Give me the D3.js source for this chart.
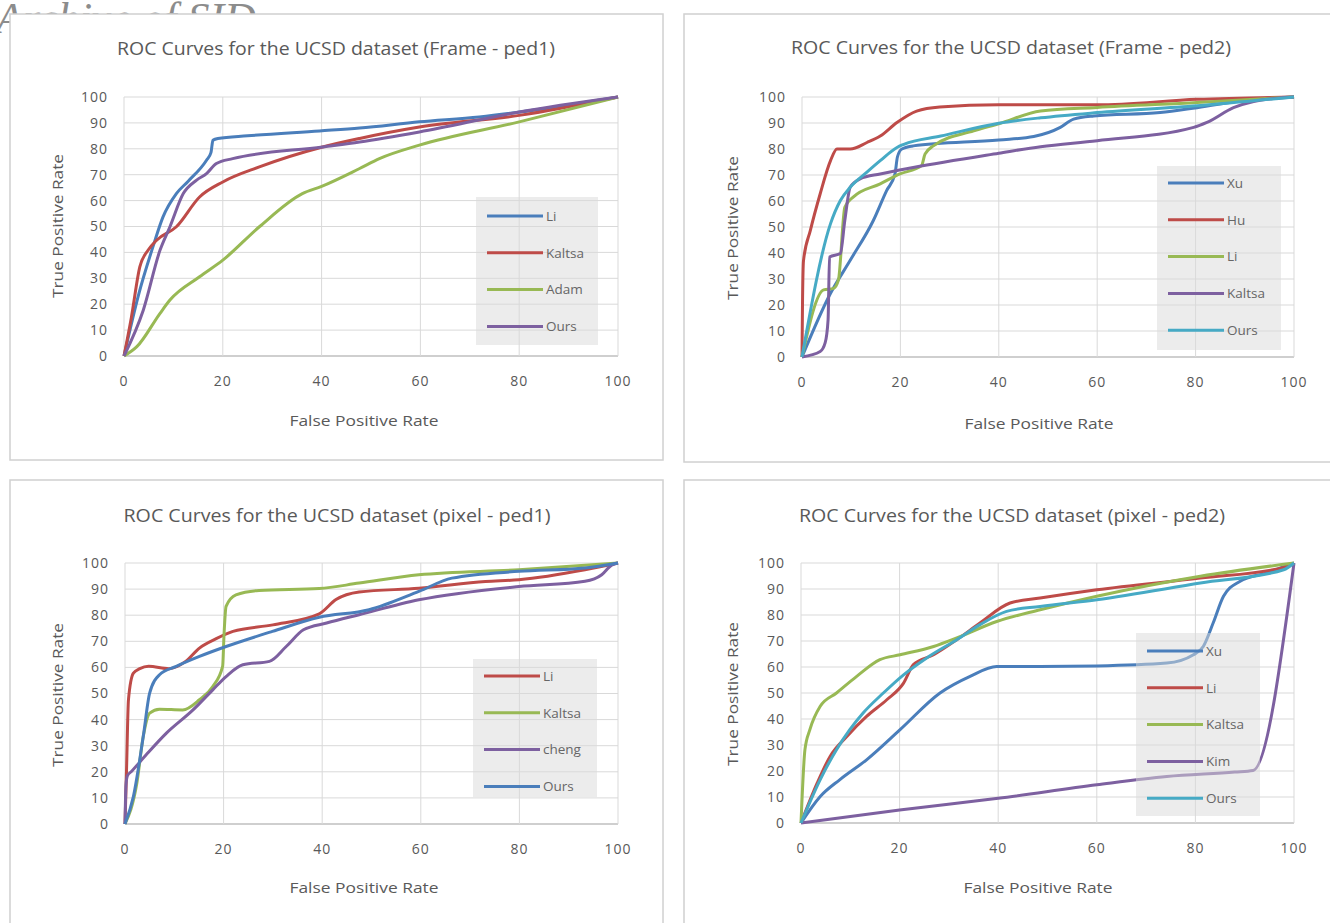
<!DOCTYPE html>
<html>
<head>
<meta charset="utf-8">
<script src="https://cdn.jsdelivr.net/npm/d3@7"></script>
<style>
  body { margin: 0; background: #fff; }
  text { font-family: 'Open Sans', sans-serif; fill: #595959; }
</style>
</head>
<body>
<svg id="chart" width="1330" height="923"></svg>
<script>
// ROC curve points [FPR, TPR]

// Frame - ped1
const fp1Names = ['Li', 'Kaltsa', 'Adam', 'Ours']
const fp1Li = [[0, 0], [3, 24], [6, 43], [7.9, 53.7], [10.6, 62.7], [13, 67.5], [16.7, 75.6], [17.6, 78.5], [18, 83.3], [19, 84], [25, 85], [39.6, 86.9], [47.7, 88], [59.8, 90.4], [71.9, 92.3], [85, 95.5], [100, 100]]
const fp1Kaltsa = [[0, 0], [1.5, 15], [3.2, 34.4], [4.9, 40.9], [6.6, 44.7], [10.6, 49.9], [15.3, 61.4], [20, 67.2], [27.4, 73], [40.2, 80.7], [47.7, 84], [59.8, 88.4], [80, 92.9], [100, 100]]
const fp1Adam = [[0, 0], [2.6, 3.6], [7.3, 16.5], [9.3, 21.6], [15.3, 30.6], [20, 37], [27.4, 49.9], [36.1, 62.7], [40, 65.5], [47.7, 72.4], [51.7, 76.2], [59.8, 81.4], [80, 90.4], [100, 100]]
const fp1Ours = [[0, 0], [3.9, 17.7], [7.3, 40.9], [9.3, 49.9], [12, 62.7], [14.7, 67.9], [16.7, 70.4], [18.7, 74.3], [22, 76.2], [40.2, 80.7], [47.7, 82.6], [59.8, 86.5], [80, 94.2], [100, 100]]

// Frame - ped2
const fp2Names = ['Xu', 'Hu', 'Li', 'Kaltsa', 'Ours']
const fp2Xu = [[0, 0], [5.8, 24.5], [9.8, 37.2], [14.5, 52.5], [17.2, 64], [18.9, 70.4], [19.4, 77], [20.3, 80], [22.6, 81.2], [40, 83.5], [47.1, 84.8], [52.5, 88.3], [55.2, 91.5], [59.3, 92.7], [72.8, 94], [80.3, 95.9], [91.8, 99.1], [100, 100]]
const fp2Hu = [[0, 0], [0.1, 20], [0.3, 37], [1.7, 48.7], [3.7, 62.8], [5.8, 75.5], [7.1, 80], [9.8, 80], [13.2, 82.5], [15.9, 85], [19.3, 90.2], [23.3, 94.6], [28, 96.2], [40, 97], [60, 97], [80.3, 99.1], [100, 100]]
const fp2Li = [[0, 0], [4.4, 25.8], [6.4, 26.4], [7.4, 29.6], [8.7, 57.6], [10.4, 61.5], [15.9, 66.6], [19.9, 70.4], [24.3, 73.6], [25, 78], [26.7, 81.2], [34.9, 87], [40, 89.7], [48.5, 94.6], [60, 96], [80.3, 97.9], [100, 100]]
const fp2Kaltsa = [[0, 0], [3.7, 2.1], [4.7, 5.4], [5.3, 14.3], [5.6, 38.5], [7.8, 39.8], [8.7, 52.5], [9.8, 65.3], [11.8, 68.5], [15.9, 70.4], [22.6, 72.9], [40, 78.4], [48.5, 80.9], [60, 83.2], [79.6, 88.3], [82.3, 90.2], [87.7, 95.9], [91.8, 98.3], [100, 100]]
const fp2Ours = [[0, 0], [5.8, 51.3], [7.8, 60.2], [9.8, 65.3], [13.2, 71.1], [15.9, 75.5], [19.3, 80.6], [20.7, 81.8], [28.2, 85], [40, 89.9], [48.5, 92], [60, 94], [80.3, 96.6], [100, 100]]

// pixel - ped1
const pp1Names = ['Li', 'Kaltsa', 'cheng', 'Ours']
const pp1Li = [[0, 0], [0.3, 20], [0.7, 47.6], [1.7, 57.8], [3, 59.5], [4.8, 60.4], [8.9, 59.5], [12.3, 62.3], [15.1, 67.4], [18.5, 71], [21.9, 73.8], [30, 76.3], [39.4, 80.5], [42.8, 86], [47.5, 88.9], [59.6, 90.3], [73.1, 92.9], [79.9, 93.6], [93.3, 97.4], [100, 100]]
const pp1Kaltsa = [[0, 0], [2.4, 15.6], [3.7, 33.5], [5, 42.5], [7, 44], [11.7, 43.7], [15.1, 47.6], [17.8, 52.7], [19.8, 60.4], [20.1, 73.1], [20.5, 83.4], [22.5, 87.8], [27.2, 89.5], [39.4, 90.2], [47.5, 92.3], [59.6, 95.5], [79.9, 97.4], [100, 100]]
const pp1Cheng = [[0, 0], [0.2, 15], [0.5, 18.5], [1.3, 20.1], [4.3, 26.5], [8.4, 34.8], [13.8, 43.7], [17.8, 51.4], [20.5, 56.5], [23.9, 61], [29.3, 62.3], [32.7, 68], [36.2, 74.4], [40.9, 77], [47.5, 80.2], [59.6, 85.9], [79.9, 91], [93.3, 93], [96.7, 95.5], [98.7, 99.2], [100, 100]]
const pp1Ours = [[0, 0], [1.7, 10.5], [3.7, 33.5], [5, 50.1], [7, 57.2], [10.4, 60.4], [15.1, 64.2], [20.5, 68], [29.9, 73.8], [39.4, 79.2], [49.5, 82.1], [59.6, 89.1], [66.3, 94.2], [79.9, 96.8], [93.3, 98.1], [100, 100]]

// pixel - ped2
const pp2Names = ['Xu', 'Li', 'Kaltsa', 'Kim', 'Ours']
const pp2Xu = [[0, 0], [3.9, 10.2], [7.9, 16.7], [13.3, 24.3], [20.1, 35.9], [28.2, 50], [34.3, 56.4], [39.7, 60.2], [48.5, 60.2], [60, 60.4], [74.2, 61.5], [79.6, 64.7], [81.6, 67.9], [83.6, 76.9], [85.7, 87.2], [89, 92.9], [94.5, 96.2], [100, 100]]
const pp2Li = [[0, 0], [3.3, 15.4], [5.9, 25.6], [9.3, 33.3], [13.3, 41], [17.4, 47.4], [20.8, 53.8], [22.8, 60.9], [26.9, 64.7], [31.6, 70.5], [36.3, 76.9], [42.4, 84.6], [48.5, 86.5], [60, 89.7], [81, 94.2], [97.9, 98.3], [100, 100]]
const pp2Kaltsa = [[0, 0], [0.8, 28.2], [1.8, 35.9], [3.9, 44.9], [7.2, 50], [11.3, 56.4], [16, 62.8], [20.1, 64.7], [26.9, 67.9], [31.6, 71.2], [39.7, 77.5], [48.5, 82], [60, 87.2], [81, 94.9], [100, 100]]
const pp2Kim = [[0, 0], [20, 5], [40, 9.5], [60, 14.7], [74.2, 17.9], [88, 19.6], [91.7, 20.2], [100, 100]]
const pp2Ours = [[0, 0], [3.9, 16.7], [7.2, 28.2], [9.9, 35.9], [12.6, 42.3], [16.7, 50], [20.8, 57], [25.5, 63.5], [31.6, 70.5], [36.3, 76.3], [41.7, 81.4], [48.5, 83.3], [60, 85.9], [81, 92.3], [97.9, 97.4], [100, 100]]

const xTicks = [0, 20, 40, 60, 80, 100]
const yTicks = [0, 10, 20, 30, 40, 50, 60, 70, 80, 90, 100]

const blue = '#4a7ebb'
const red = '#be4b48'
const green = '#98b954'
const purple = '#7d60a0'
const cyan = '#46aac5'

const panels = [
  {
    title: 'ROC Curves for the UCSD dataset (Frame - ped1)',
    box: [10, 14, 653, 446],
    plot: [124, 618, 97, 356],
    titlePos: [336, 49, 438],
    xLab: [364, 421],
    yLab: [58, 226],
    legend: [476, 197, 122, 148, 216],
    names: fp1Names,
    data: [fp1Li, fp1Kaltsa, fp1Adam, fp1Ours],
    colors: [blue, red, green, purple]
  },
  {
    title: 'ROC Curves for the UCSD dataset (Frame - ped2)',
    box: [684, 14, 660, 448],
    plot: [802, 1294, 97, 357],
    titlePos: [1011, 48, 440],
    xLab: [1039, 424],
    yLab: [733, 228],
    legend: [1157, 166, 124, 184, 183],
    names: fp2Names,
    data: [fp2Xu, fp2Hu, fp2Li, fp2Kaltsa, fp2Ours],
    colors: [blue, red, green, purple, cyan]
  },
  {
    title: 'ROC Curves for the UCSD dataset (pixel - ped1)',
    box: [10, 480, 653, 460],
    plot: [125, 618, 563, 824],
    titlePos: [337, 516, 427],
    xLab: [364, 888],
    yLab: [58, 695],
    legend: [473, 659, 124, 138, 676],
    names: pp1Names,
    data: [pp1Li, pp1Kaltsa, pp1Cheng, pp1Ours],
    colors: [red, green, purple, blue]
  },
  {
    title: 'ROC Curves for the UCSD dataset (pixel - ped2)',
    box: [684, 480, 660, 460],
    plot: [801, 1294, 563, 823],
    titlePos: [1012, 516, 426],
    xLab: [1038, 888],
    yLab: [733, 694],
    legend: [1136, 633, 124, 183, 651],
    names: pp2Names,
    data: [pp2Xu, pp2Li, pp2Kaltsa, pp2Kim, pp2Ours],
    colors: [blue, red, green, purple, cyan]
  }
]

const svg = d3.select('#chart')

// watermark behind the panels (mostly hidden, as in the scan)
svg.append('text')
  .attr('x', -4)
  .attr('y', 33)
  .style('font-family', "'Liberation Serif', serif")
  .style('font-style', 'italic')
  .style('font-size', '44px')
  .style('fill', '#8c8c8c')
  .text('Archive of SID')

panels.forEach(p => {
  const g = svg.append('g')

  g.append('rect')
    .attr('x', p.box[0])
    .attr('y', p.box[1])
    .attr('width', p.box[2])
    .attr('height', p.box[3])
    .attr('fill', '#fff')
    .attr('stroke', '#d0d0d0')
    .attr('stroke-width', 1.5)

  const x = d3.scaleLinear().domain([0, 100]).range([p.plot[0], p.plot[1]])
  const y = d3.scaleLinear().domain([0, 100]).range([p.plot[3], p.plot[2]])

  // gridlines
  g.selectAll('.hgrid')
    .data(yTicks)
    .enter()
    .append('line')
    .attr('x1', x(0))
    .attr('x2', x(100))
    .attr('y1', d => y(d))
    .attr('y2', d => y(d))
    .attr('stroke', d => d === 0 ? '#bfbfbf' : '#d9d9d9')
    .attr('stroke-width', d => d === 0 ? 1.5 : 1)

  g.selectAll('.vgrid')
    .data(xTicks)
    .enter()
    .append('line')
    .attr('x1', d => x(d))
    .attr('x2', d => x(d))
    .attr('y1', y(0))
    .attr('y2', y(100))
    .attr('stroke', '#d9d9d9')

  // tick labels
  g.selectAll('.ylab')
    .data(yTicks)
    .enter()
    .append('text')
    .attr('x', x(0) - 16)
    .attr('y', d => y(d))
    .attr('dy', '0.35em')
    .attr('text-anchor', 'end')
    .style('font-size', '14px')
    .style('letter-spacing', '1px')
    .text(d => d)

  g.selectAll('.xlab')
    .data(xTicks)
    .enter()
    .append('text')
    .attr('x', d => x(d))
    .attr('y', y(0) + 25)
    .attr('dy', '0.35em')
    .attr('text-anchor', 'middle')
    .style('font-size', '14px')
    .style('letter-spacing', '1px')
    .text(d => d)

  // titles
  g.append('text')
    .attr('x', p.titlePos[0])
    .attr('y', p.titlePos[1])
    .attr('dy', '0.35em')
    .attr('text-anchor', 'middle')
    .attr('textLength', p.titlePos[2])
    .attr('lengthAdjust', 'spacingAndGlyphs')
    .style('font-size', '18px')
    .text(p.title)

  g.append('text')
    .attr('x', p.xLab[0])
    .attr('y', p.xLab[1])
    .attr('dy', '0.35em')
    .attr('text-anchor', 'middle')
    .attr('textLength', 149)
    .attr('lengthAdjust', 'spacingAndGlyphs')
    .style('font-size', '15px')
    .text('False Positive Rate')

  g.append('text')
    .attr('transform', 'translate(' + p.yLab[0] + ',' + p.yLab[1] + ') rotate(-90)')
    .attr('dy', '0.35em')
    .attr('text-anchor', 'middle')
    .attr('textLength', 144)
    .attr('lengthAdjust', 'spacingAndGlyphs')
    .style('font-size', '15px')
    .text('True Positive Rate')

  // curves
  const line = d3.line()
    .x(d => x(d[0]))
    .y(d => y(d[1]))
    .curve(d3.curveMonotoneX)

  g.selectAll('.curve')
    .data(p.data)
    .enter()
    .append('path')
    .attr('d', line)
    .attr('fill', 'none')
    .attr('stroke', (d, i) => p.colors[i])
    .attr('stroke-width', 3)
    .attr('stroke-linejoin', 'round')

  // legend, drawn over the curves with a see-through fill
  const lg = p.legend
  g.append('rect')
    .attr('x', lg[0])
    .attr('y', lg[1])
    .attr('width', lg[2])
    .attr('height', lg[3])
    .attr('fill', '#d9d9d9')
    .attr('fill-opacity', 0.5)

  p.names.forEach((name, i) => {
    const ly = lg[4] + i * 36.8
    g.append('line')
      .attr('x1', lg[0] + 11)
      .attr('x2', lg[0] + 67)
      .attr('y1', ly)
      .attr('y2', ly)
      .attr('stroke', p.colors[i])
      .attr('stroke-width', 3)
    g.append('text')
      .attr('x', lg[0] + 70)
      .attr('y', ly)
      .attr('dy', '0.35em')
      .style('font-size', '13.5px')
      .style('fill', '#666')
      .text(name)
  })
})
</script>
</body>
</html>
